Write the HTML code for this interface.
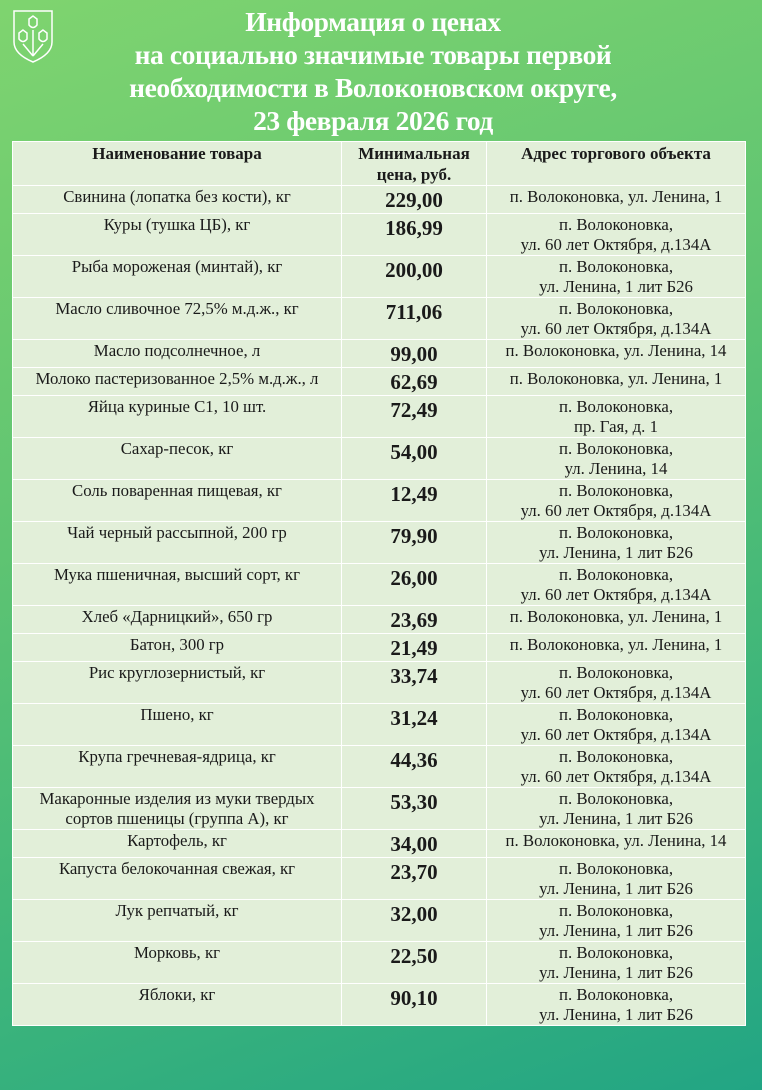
<!DOCTYPE html>
<html lang="ru"><head><meta charset="utf-8"><style>
html,body{margin:0;padding:0}
body{width:762px;height:1090px;position:relative;overflow:hidden;
background:linear-gradient(160deg,#7fd46f 0%,#5fc472 40%,#3fb67a 70%,#22a584 100%);
font-family:"Liberation Serif","Times New Roman",serif;color:#1a1a1a}
.title{position:absolute;left:63px;width:620px;top:5px;text-align:center;color:#fff;font-weight:bold;font-size:27.5px;line-height:33px;letter-spacing:-0.4px}
.emblem{position:absolute;left:12px;top:10px}
table{position:absolute;left:12px;top:141px;width:733px;border-collapse:collapse;table-layout:fixed}
td,th{border:1px solid #fff;background:#e2efd9;text-align:center;vertical-align:top;padding:0;font-size:16.8px;line-height:20px;overflow:hidden;white-space:nowrap}
th{font-weight:bold;font-size:17px;line-height:21px;padding-top:1px}
td.p{font-weight:bold;font-size:21px;padding-top:3px;line-height:22px}
td.n{padding-top:1px}
td.a{padding-top:1px}
tr.s{height:28px} tr.d{height:42px}
</style></head><body>
<svg class="emblem" width="44" height="54" viewBox="0 0 44 54">
<path d="M2 1 H40 V32 Q40 44 21 52 Q2 44 2 32 Z" fill="none" stroke="#fff" stroke-width="1.5"/>
<path d="M21 6 l-4 3 v6 q4 5 8 0 v-6 z M11 20 l-4 3 v6 q4 5 8 0 v-6z M31 20 l-4 3 v6 q4 5 8 0 v-6z" fill="none" stroke="#fff" stroke-width="1.5"/>
<path d="M21 20 V46 M11 34 L21 46 M31 34 L21 46" stroke="#fff" stroke-width="1.5" fill="none"/>
</svg>
<div class="title">Информация о ценах<br>на социально значимые товары первой<br>необходимости в Волоконовском округе,<br>23 февраля 2026 год</div>
<table>
<colgroup><col style="width:329px"><col style="width:145px"><col style="width:259px"></colgroup>
<tr style="height:44px"><th>Наименование товара</th><th>Минимальная<br>цена, руб.</th><th>Адрес торгового объекта</th></tr>
<tr class="s"><td class="n">Свинина (лопатка без кости), кг</td><td class="p">229,00</td><td class="a">п. Волоконовка, ул. Ленина, 1</td></tr>
<tr class="d"><td class="n">Куры (тушка ЦБ), кг</td><td class="p">186,99</td><td class="a">п. Волоконовка,<br>ул. 60 лет Октября, д.134А</td></tr>
<tr class="d"><td class="n">Рыба мороженая (минтай), кг</td><td class="p">200,00</td><td class="a">п. Волоконовка,<br>ул. Ленина, 1 лит Б26</td></tr>
<tr class="d"><td class="n">Масло сливочное 72,5% м.д.ж., кг</td><td class="p">711,06</td><td class="a">п. Волоконовка,<br>ул. 60 лет Октября, д.134А</td></tr>
<tr class="s"><td class="n">Масло подсолнечное, л</td><td class="p">99,00</td><td class="a">п. Волоконовка, ул. Ленина, 14</td></tr>
<tr class="s"><td class="n">Молоко пастеризованное 2,5% м.д.ж., л</td><td class="p">62,69</td><td class="a">п. Волоконовка, ул. Ленина, 1</td></tr>
<tr class="d"><td class="n">Яйца куриные С1, 10 шт.</td><td class="p">72,49</td><td class="a">п. Волоконовка,<br>пр. Гая, д. 1</td></tr>
<tr class="d"><td class="n">Сахар-песок, кг</td><td class="p">54,00</td><td class="a">п. Волоконовка,<br>ул. Ленина, 14</td></tr>
<tr class="d"><td class="n">Соль поваренная пищевая, кг</td><td class="p">12,49</td><td class="a">п. Волоконовка,<br>ул. 60 лет Октября, д.134А</td></tr>
<tr class="d"><td class="n">Чай черный рассыпной, 200 гр</td><td class="p">79,90</td><td class="a">п. Волоконовка,<br>ул. Ленина, 1 лит Б26</td></tr>
<tr class="d"><td class="n">Мука пшеничная, высший сорт, кг</td><td class="p">26,00</td><td class="a">п. Волоконовка,<br>ул. 60 лет Октября, д.134А</td></tr>
<tr class="s"><td class="n">Хлеб «Дарницкий», 650 гр</td><td class="p">23,69</td><td class="a">п. Волоконовка, ул. Ленина, 1</td></tr>
<tr class="s"><td class="n">Батон, 300 гр</td><td class="p">21,49</td><td class="a">п. Волоконовка, ул. Ленина, 1</td></tr>
<tr class="d"><td class="n">Рис круглозернистый, кг</td><td class="p">33,74</td><td class="a">п. Волоконовка,<br>ул. 60 лет Октября, д.134А</td></tr>
<tr class="d"><td class="n">Пшено, кг</td><td class="p">31,24</td><td class="a">п. Волоконовка,<br>ул. 60 лет Октября, д.134А</td></tr>
<tr class="d"><td class="n">Крупа гречневая-ядрица, кг</td><td class="p">44,36</td><td class="a">п. Волоконовка,<br>ул. 60 лет Октября, д.134А</td></tr>
<tr class="d"><td class="n">Макаронные изделия из муки твердых<br>сортов пшеницы (группа А), кг</td><td class="p">53,30</td><td class="a">п. Волоконовка,<br>ул. Ленина, 1 лит Б26</td></tr>
<tr class="s"><td class="n">Картофель, кг</td><td class="p">34,00</td><td class="a">п. Волоконовка, ул. Ленина, 14</td></tr>
<tr class="d"><td class="n">Капуста белокочанная свежая, кг</td><td class="p">23,70</td><td class="a">п. Волоконовка,<br>ул. Ленина, 1 лит Б26</td></tr>
<tr class="d"><td class="n">Лук репчатый, кг</td><td class="p">32,00</td><td class="a">п. Волоконовка,<br>ул. Ленина, 1 лит Б26</td></tr>
<tr class="d"><td class="n">Морковь, кг</td><td class="p">22,50</td><td class="a">п. Волоконовка,<br>ул. Ленина, 1 лит Б26</td></tr>
<tr class="d"><td class="n">Яблоки, кг</td><td class="p">90,10</td><td class="a">п. Волоконовка,<br>ул. Ленина, 1 лит Б26</td></tr>
</table>
</body></html>
